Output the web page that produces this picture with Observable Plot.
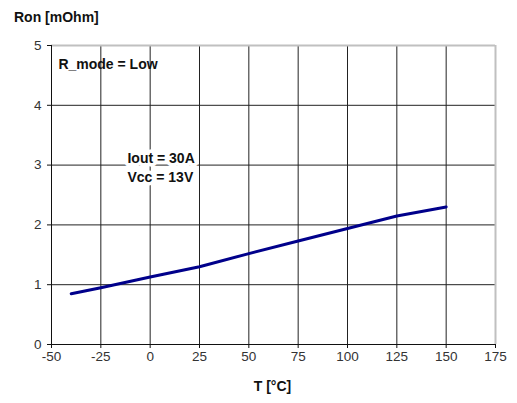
<!DOCTYPE html>
<html><head><meta charset="utf-8">
<script src="https://cdn.jsdelivr.net/npm/d3@7"></script>
<script src="https://cdn.jsdelivr.net/npm/@observablehq/plot@0.6"></script>
<style>
body{margin:0;background:#fff;font-family:"Liberation Sans",Arial,sans-serif;}
#c{position:relative;width:517px;height:403px;}
</style></head><body><div id="c"></div>
<script>
const temps = [-40, -25, 0, 25, 50, 75, 100, 125, 150];
const ron = [0.85, 0.95, 1.13, 1.30, 1.52, 1.73, 1.94, 2.15, 2.30];
const xTicks = [-50, -25, 0, 25, 50, 75, 100, 125, 150, 175];
const yTicks = [0, 1, 2, 3, 4, 5];
const annot1 = ["R_mode = Low"];
const annot2 = ["Iout = 30A\nVcc = 13V"];
const data = temps.map((t, i) => ({t, r: ron[i]}));

const fmt = d => String(d);
const chart = Plot.plot({
  width: 517, height: 403,
  marginLeft: 51, marginRight: 22, marginTop: 45, marginBottom: 59,
  style: {fontFamily: "'Liberation Sans', Arial, sans-serif", fontSize: "13.5px", color: "#333", background: "#fff"},
  x: {domain: [-50, 175], label: null},
  y: {domain: [0, 5], label: null},
  marks: [
    Plot.ruleX(xTicks.slice(1, -1), {stroke: "#222", strokeWidth: 1}),
    Plot.ruleY(yTicks.slice(1, -1), {stroke: "#222", strokeWidth: 1}),
    Plot.ruleY([5], {stroke: "#c0c0c0", strokeWidth: 2}),
    Plot.ruleX([175], {stroke: "#c0c0c0", strokeWidth: 2}),
    Plot.ruleX([-50], {stroke: "#111", strokeWidth: 1}),
    Plot.ruleY([0], {stroke: "#111", strokeWidth: 1}),
    Plot.axisX({ticks: xTicks, tickFormat: fmt, tickSize: 4, tickPadding: 3, fontSize: 13.5, label: null, stroke: "#111"}),
    Plot.axisY({ticks: yTicks, tickFormat: fmt, tickSize: 4, tickPadding: 6, fontSize: 13.5, label: null, stroke: "#111"}),
    Plot.text(annot1, {x: -46.5, y: 4.68, text: d => d, textAnchor: "start", fontWeight: "bold", fontSize: 14, fill: "#111"}),
    Plot.text(annot2, {x: -11.5, y: 2.98, text: d => d, textAnchor: "start", fontWeight: "bold", fontSize: 14, fill: "#111", lineHeight: 1.35, stroke: "white", strokeWidth: 7}),
    Plot.line(data, {x: "t", y: "r", stroke: "#00008b", strokeWidth: 3, curve: "linear"})
  ]
});
const c = document.getElementById("c");
c.appendChild(chart);
const t1 = document.createElement("div");
t1.textContent = "Ron [mOhm]";
t1.style.cssText = "position:absolute;left:14px;top:9px;font-weight:bold;font-size:14px;color:#111;";
c.appendChild(t1);
const t2 = document.createElement("div");
t2.textContent = "T [°C]";
t2.style.cssText = "position:absolute;left:0;width:545px;text-align:center;top:378px;font-weight:bold;font-size:14px;color:#111;";
c.appendChild(t2);
</script></body></html>
